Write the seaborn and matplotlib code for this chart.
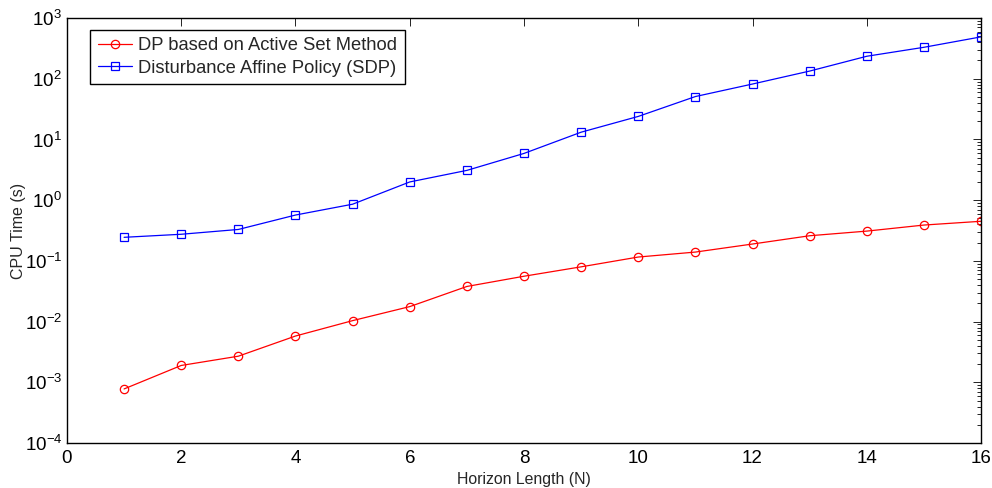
import matplotlib
matplotlib.use("Agg")
import matplotlib.pyplot as plt
import matplotlib.ticker as mticker
import numpy as np
import pandas as pd
import seaborn as sns

# Horizon lengths and measured CPU times
horizon = [1, 2, 3, 4, 5, 6, 7, 8, 9, 10, 11, 12, 13, 14, 15, 16]
dp_active_set = [0.00078, 0.0019, 0.0027, 0.0058, 0.0104, 0.0177, 0.038, 0.056,
                 0.080, 0.116, 0.140, 0.19, 0.26, 0.31, 0.39, 0.45]
sdp_affine = [0.245, 0.275, 0.33, 0.57, 0.86, 2.0, 3.1, 5.9,
              13.2, 24.0, 51.0, 82.0, 134.0, 235.0, 330.0, 490.0]
series_names = ["DP based on Active Set Method", "Disturbance Affine Policy (SDP)"]
x_ticks = [0, 2, 4, 6, 8, 10, 12, 14, 16]
y_ticks = [1e-4, 1e-3, 1e-2, 1e-1, 1e0, 1e1, 1e2, 1e3]

sns.set_theme(style="white")
plt.rcParams["font.family"] = ["Liberation Sans", "DejaVu Sans"]
plt.rcParams["mathtext.fontset"] = "custom"
plt.rcParams["mathtext.rm"] = "Liberation Sans"
plt.rcParams["mathtext.it"] = "Liberation Sans"
plt.rcParams["mathtext.default"] = "regular"

fig = plt.figure(figsize=(9.92, 4.88), dpi=100)
ax = fig.add_axes([0.0675, 0.092, 0.9215, 0.871])

df_dp = pd.DataFrame({"N": horizon, "t": dp_active_set})
df_sdp = pd.DataFrame({"N": horizon, "t": sdp_affine})

sns.lineplot(data=df_dp, x="N", y="t", ax=ax, color="#ff0000", marker="o",
             markersize=6, markerfacecolor="none", markeredgecolor="#ff0000",
             markeredgewidth=0.9, linewidth=0.9, label=series_names[0])
sns.lineplot(data=df_sdp, x="N", y="t", ax=ax, color="#0000ff", marker="s",
             markersize=5.5, markerfacecolor="none", markeredgecolor="#0000ff",
             markeredgewidth=0.9, linewidth=0.9, label=series_names[1])

ax.set_yscale("log")
ax.set_xlim(0, 16)
ax.set_ylim(1e-4, 1e3)
ax.set_xticks(x_ticks)
ax.set_xticklabels([str(t) for t in x_ticks])
ax.yaxis.set_major_locator(mticker.FixedLocator(y_ticks))
minor_y = [m * d for d in y_ticks[:-1] for m in range(2, 10)]
ax.yaxis.set_minor_locator(mticker.FixedLocator(minor_y))
ax.yaxis.set_major_formatter(mticker.LogFormatterMathtext())
ax.yaxis.set_minor_formatter(mticker.NullFormatter())

ax.tick_params(axis="both", which="both", direction="in", top=True, right=True,
               colors="black", labelsize=13.5)
ax.tick_params(axis="both", which="major", length=6, width=0.6)
ax.tick_params(axis="y", which="minor", length=3, width=0.6)
ax.tick_params(axis="x", which="major", pad=5)

for sp in ax.spines.values():
    sp.set_color("black")
    sp.set_linewidth(1.0)

ax.set_xlabel("Horizon Length (N)", fontsize=11.4, labelpad=3.5)
ax.set_ylabel("CPU Time (s)", fontsize=11.5, labelpad=-1)

leg = ax.legend(loc="upper left", bbox_to_anchor=(0.025, 0.973), fontsize=13.2,
                frameon=True, fancybox=False, framealpha=1, edgecolor="black",
                borderpad=0.42, handlelength=1.9, handletextpad=0.3, labelspacing=0.3,
                borderaxespad=0)
leg.get_frame().set_linewidth(1.0)

fig.savefig("out.png", dpi=100)
